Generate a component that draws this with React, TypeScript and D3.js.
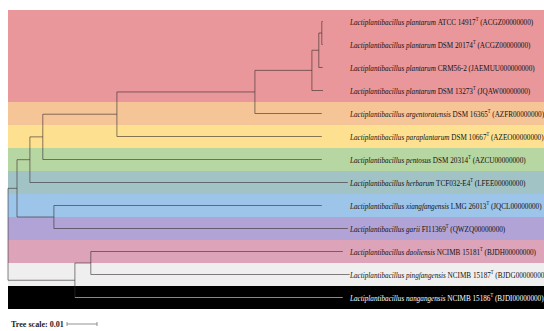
import React, { useRef, useEffect } from "react";
import * as d3 from "d3";

// leaves, top to bottom
const leafIds = ["L0", "L1", "L2", "L3", "L4", "L5", "L6", "L7", "L8", "L9", "L10", "L11", "L12"];
const leafSpecies = [
  "plantarum",
  "plantarum",
  "plantarum",
  "plantarum",
  "argentoratensis",
  "paraplantarum",
  "pentosus",
  "herbarum",
  "xiangfangensis",
  "garii",
  "daoliensis",
  "pingfangensis",
  "nangangensis",
];
const leafStrains = [
  "ATCC 14917",
  "DSM 20174",
  "CRM56-2",
  "DSM 13273",
  "DSM 16365",
  "DSM 10667",
  "DSM 20314",
  "TCF032-E4",
  "LMG 26013",
  "FI11369",
  "NCIMB 15181",
  "NCIMB 15187",
  "NCIMB 15186",
];
const leafTypeStrain = [true, true, false, true, true, true, true, true, true, true, true, true, true];
const leafAccessions = [
  "ACGZ00000000",
  "ACGZ00000000",
  "JAEMUU000000000",
  "JQAW00000000",
  "AZFR00000000",
  "AZEO00000000",
  "AZCU00000000",
  "LFEE00000000",
  "JQCL00000000",
  "QWZQ00000000",
  "BJDH00000000",
  "BJDG00000000",
  "BJDI00000000",
];
const bandColors = [
  "#e9979a", "#e9979a", "#e9979a", "#e9979a",
  "#f5c598",
  "#fde190",
  "#b6d6a2",
  "#a2c3c6",
  "#9dc4e9",
  "#b2a3d7",
  "#dca3b9",
  "#efefef",
  "#000000",
];

// tree as parent list with branch lengths (substitutions per site)
const nodeIds = [
  "root", "A", "N30", "N43", "N117", "N255", "N312", "N319", "N322",
  "L0", "L1", "L2", "L3", "L4", "L5", "L6", "L7",
  "N54", "L8", "L9",
  "B", "N91", "L10", "L11", "L12",
];
const parentIds = [
  "", "root", "A", "N30", "N43", "N117", "N255", "N312", "N319",
  "N322", "N322", "N319", "N312", "N255", "N117", "N43", "N30",
  "A", "N54", "N54",
  "root", "B", "N91", "N91", "B",
];
const branchLengths = [
  0, 0.003, 0.0043, 0.0043, 0.0247, 0.046, 0.019, 0.0023, 0.001,
  0.0003, 0.0003, 0.0013, 0.0037, 0.0223, 0.0683, 0.093, 0.106,
  0.0123, 0.0893, 0.098,
  0.0223, 0.0053, 0.084, 0.0863, 0.0893,
];
const treeScaleValue = 0.01;

const width = 544;
const height = 331;

function App() {
  const svgRef = useRef(null);

  useEffect(() => {
    const svg = d3.select(svgRef.current);
    svg.selectAll("*").remove();

    const rows = d3.scaleBand().domain(leafIds).range([10, 309]);
    const xScale = d3.scaleLinear().domain([0, 0.114]).range([8, 350]);

    const table = nodeIds.map((id, i) => ({ id, parent: parentIds[i] || null, len: branchLengths[i] }));
    const root = d3
      .stratify()
      .id((d) => d.id)
      .parentId((d) => d.parent)(table);

    // depth = cumulative branch length
    root.eachBefore((n) => {
      n.dist = (n.parent ? n.parent.dist : 0) + n.data.len;
    });
    root.eachAfter((n) => {
      if (!n.children) n.py = rows(n.id) + rows.bandwidth() / 2;
      else n.py = (n.children[0].py + n.children[n.children.length - 1].py) / 2;
    });

    // background bands
    svg
      .append("g")
      .selectAll("rect")
      .data(leafIds)
      .join("rect")
      .attr("x", 8)
      .attr("y", (d) => rows(d))
      .attr("width", width - 8)
      .attr("height", rows.bandwidth())
      .attr("fill", (d, i) => bandColors[i]);

    const lineColor = (n) => {
      const idx = n.children ? -1 : leafIds.indexOf(n.id);
      return idx >= 0 && bandColors[idx] === "#000000" ? "#8a8a8a" : "rgba(55,45,45,0.6)";
    };

    const g = svg.append("g").attr("fill", "none").attr("stroke-width", 1);
    root.descendants().forEach((n) => {
      if (n.parent) {
        g.append("line")
          .attr("x1", xScale(n.parent.dist))
          .attr("x2", xScale(n.dist))
          .attr("y1", n.py)
          .attr("y2", n.py)
          .attr("stroke", lineColor(n));
      }
      if (n.children) {
        g.append("line")
          .attr("x1", xScale(n.dist))
          .attr("x2", xScale(n.dist))
          .attr("y1", n.children[0].py)
          .attr("y2", n.children[n.children.length - 1].py)
          .attr("stroke", "rgba(55,45,45,0.6)");
      }
    });

    // leaf labels, condensed so the widest one ends near the right edge (as in the source)
    const x0 = xScale(0.114);
    const labels = svg
      .append("g")
      .attr("font-family", "'Liberation Serif', 'DejaVu Serif', serif")
      .attr("font-size", 9);
    const texts = leafIds.map((id, i) => {
      const y = rows(id) + rows.bandwidth() / 2 + 3;
      const t = labels
        .append("text")
        .attr("transform", `translate(${x0},${y})`)
        .attr("fill", bandColors[i] === "#000000" ? "#ffffff" : "#111111");
      t.append("tspan").attr("font-style", "italic").text(`Lactiplantibacillus ${leafSpecies[i]} `);
      t.append("tspan").text(leafStrains[i]);
      if (leafTypeStrain[i]) {
        t.append("tspan").attr("font-size", 5.5).attr("dy", -3.5).text("T");
        t.append("tspan").attr("dy", 3.5).text(` (${leafAccessions[i]})`);
      } else {
        t.append("tspan").text(` (${leafAccessions[i]})`);
      }
      return { t, y };
    });
    const ref = texts[8].t.node().getComputedTextLength();
    const k = ref > 0 ? (width - 2 - x0) / ref : 0.8;
    texts.forEach(({ t, y }) => t.attr("transform", `translate(${x0},${y}) scale(${k},1)`));

    // tree scale
    const sx = 67;
    const sw = xScale(treeScaleValue) - xScale(0);
    const sy = 324;
    svg
      .append("text")
      .attr("transform", `translate(11,${sy + 3}) scale(0.9,1)`)
      .attr("font-family", "'Liberation Serif', serif")
      .attr("font-weight", "bold")
      .attr("font-size", 9)
      .attr("fill", "#222")
      .text(`Tree scale: ${treeScaleValue}`);
    const sc = svg.append("g").attr("stroke", "#777").attr("stroke-width", 0.8);
    sc.append("line").attr("x1", sx).attr("x2", sx + sw).attr("y1", sy).attr("y2", sy);
    sc.append("line").attr("x1", sx).attr("x2", sx).attr("y1", sy - 2).attr("y2", sy + 2);
    sc.append("line").attr("x1", sx + sw).attr("x2", sx + sw).attr("y1", sy - 2).attr("y2", sy + 2);
  }, []);

  return (
    <svg
      ref={svgRef}
      width={width}
      height={height}
      style={{ position: "absolute", left: 0, top: 0, background: "#fff" }}
    ></svg>
  );
}

export default App;
